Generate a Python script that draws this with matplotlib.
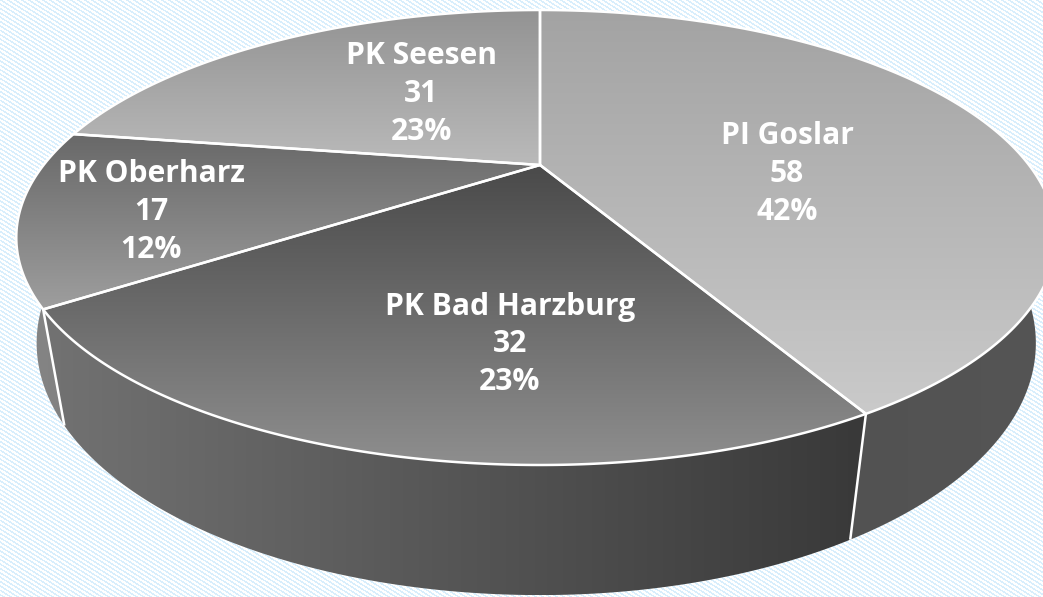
import numpy as np
import matplotlib
matplotlib.use("Agg")
import matplotlib.pyplot as plt
from matplotlib.patches import Polygon
from matplotlib.colors import LinearSegmentedColormap

# ---------------- data ----------------
categories = ["PI Goslar", "PK Bad Harzburg", "PK Oberharz", "PK Seesen"]
values = [58, 32, 17, 31]
percent_labels = ["42%", "23%", "12%", "23%"]

# ---------------- styles / layout ----------------
top_colors = [("#a3a3a3", "#cacaca"), ("#4a4a4a", "#8e8e8e"),
              ("#686868", "#9e9e9e"), ("#939393", "#bababa")]
side_colors = [("#4e4e4e", "#555555"), ("#727272", "#393939"),
               ("#878787", "#7e7e7e"), ("#909090", "#909090")]
label_pos = [(787, 182), (510, 352), (151, 220), (421, 102)]  # centre x, baseline of middle line
LINE_STEP = 37.5

W, H = 1043, 597
# perspective model of the pie disk (pixel space)
CX, CY = 540.0, 165.0
K = -0.3187
B = 151.8
AL, AR = 496.4, 489.0
MU = 0.0364
VPY = 3030.0


def proj(u, v, bottom=False):
    u = np.asarray(u, float)
    v = np.asarray(v, float)
    w = 1 + K * v
    A = np.where(u < 0, AL, AR)
    if not bottom:
        return CX + A * u / w, (CY + B * v) / w
    return CX + A * u / (w + MU), (CY + B * v + VPY * MU) / (w + MU)


def rim(phi0, phi1, bottom=False, n=200):
    ph = np.radians(np.linspace(phi0, phi1, n))
    return proj(np.sin(ph), -np.cos(ph), bottom)


fig = plt.figure(figsize=(W / 100, H / 100), dpi=100)
ax = fig.add_axes([0, 0, 1, 1])
ax.set_axis_off()

# background diagonal hatch
yy, xx = np.mgrid[0:H, 0:W]
pat = ((xx - np.round(1.6 * yy).astype(int)) % 7) < 3
bg = np.ones((H, W, 3))
blue = np.array([0xd8, 0xee, 0xfc]) / 255.0
bg[pat] = blue
ax.imshow(bg, extent=(0, W, H, 0), origin="upper", interpolation="nearest", zorder=0)


def grad_fill(verts, c0, c1, horizontal=False, z=1):
    verts = np.asarray(verts)
    patch = Polygon(verts, closed=True, facecolor="none", edgecolor="none", zorder=z)
    ax.add_patch(patch)
    x0, y0 = verts.min(axis=0)
    x1, y1 = verts.max(axis=0)
    g = np.linspace(0, 1, 256)
    arr = g[None, :] if horizontal else g[:, None]
    cmap = LinearSegmentedColormap.from_list("g", [c0, c1])
    im = ax.imshow(arr, cmap=cmap, extent=(x0, x1, y1, y0), origin="upper",
                   aspect="auto", interpolation="bilinear", zorder=z)
    im.set_clip_path(patch)


total = float(sum(values))
bounds = np.concatenate([[0], np.cumsum(values) / total * 360.0])

# side walls (back slices first)
order = [3, 2, 0, 1]
for i in order:
    a, b = bounds[i], bounds[i + 1]
    tx, ty = rim(a, b)
    bx, by = rim(a, b, bottom=True)
    verts = np.column_stack([np.concatenate([tx, bx[::-1]]),
                             np.concatenate([ty, by[::-1]])])
    grad_fill(verts, side_colors[i][0], side_colors[i][1], horizontal=True, z=2)

# vertical white edges on visible boundaries
for ang in bounds[1:-1]:
    u, v = np.sin(np.radians(ang)), -np.cos(np.radians(ang))
    if v > 0.32:
        x0, y0 = proj(u, v)
        x1, y1 = proj(u, v, bottom=True)
        ax.plot([x0, x1], [y0, y1], color="white", lw=1.8, zorder=3,
                solid_capstyle="butt")

# top faces
for i in range(len(values)):
    a, b = bounds[i], bounds[i + 1]
    tx, ty = rim(a, b)
    verts = np.column_stack([np.concatenate([[CX], tx]), np.concatenate([[CY], ty])])
    grad_fill(verts, top_colors[i][0], top_colors[i][1], z=4)
    ax.add_patch(Polygon(verts, closed=True, facecolor="none", edgecolor="white",
                         lw=1.8, joinstyle="round", zorder=5))

# labels
for i, name in enumerate(categories):
    x, yb = label_pos[i]
    for j, t in enumerate([name, str(values[i]), percent_labels[i]]):
        ax.text(x, yb + (j - 1) * LINE_STEP, t, ha="center", va="baseline",
                color="white", fontsize=21.6, fontweight="bold",
                family=["Open Sans", "DejaVu Sans"], zorder=6)

ax.set_xlim(0, W)
ax.set_ylim(H, 0)
fig.savefig("out.png", dpi=100)
